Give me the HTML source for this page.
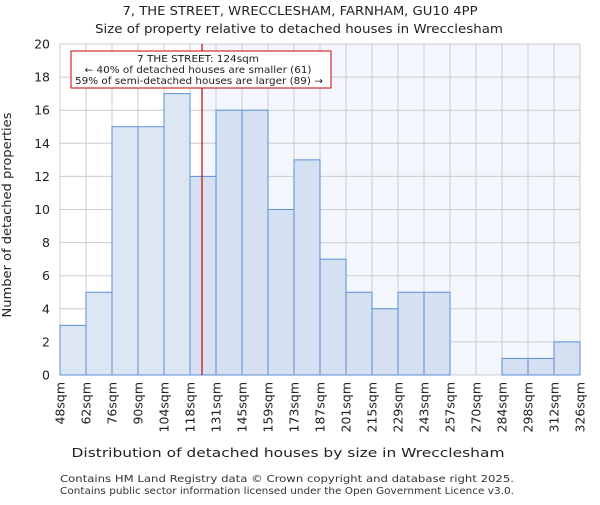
<!DOCTYPE html>
<html><head><meta charset="utf-8"><style>
body{margin:0;background:#fff;font-family:"Liberation Sans","DejaVu Sans",sans-serif}
</style></head><body>
<svg width="600" height="500" xmlns="http://www.w3.org/2000/svg" font-family="DejaVu Sans, Liberation Sans, sans-serif">
<text x="300" y="15" text-anchor="middle" font-size="12.5" fill="#222" textLength="355" lengthAdjust="spacingAndGlyphs">7, THE STREET, WRECCLESHAM, FARNHAM, GU10 4PP</text>
<text x="299" y="33" text-anchor="middle" font-size="12.5" fill="#222" textLength="408" lengthAdjust="spacingAndGlyphs">Size of property relative to detached houses in Wrecclesham</text>
<rect id="bgR" fill="#f3f6fd"/>
<g id="grid"></g>
<g id="bars"></g>
<line id="marker" stroke="#cc0000" stroke-width="1.2"/>
<g id="axes"></g>
<rect x="71" y="51" width="260" height="37" fill="#fff" stroke="#cc0000" stroke-width="1"/>
<text x="198" y="62" text-anchor="middle" font-size="9.5" fill="#222" textLength="122" lengthAdjust="spacingAndGlyphs">7 THE STREET: 124sqm</text>
<text x="198" y="73" text-anchor="middle" font-size="9.5" fill="#222" textLength="227" lengthAdjust="spacingAndGlyphs">← 40% of detached houses are smaller (61)</text>
<text x="199" y="84" text-anchor="middle" font-size="9.5" fill="#222" textLength="248" lengthAdjust="spacingAndGlyphs">59% of semi-detached houses are larger (89) →</text>
<text x="288" y="457" text-anchor="middle" font-size="12" fill="#222" textLength="433" lengthAdjust="spacingAndGlyphs">Distribution of detached houses by size in Wrecclesham</text>
<text transform="translate(11,215) rotate(-90)" text-anchor="middle" font-size="12" fill="#222" textLength="205" lengthAdjust="spacingAndGlyphs">Number of detached properties</text>
<text x="60" y="482" font-size="10" fill="#333" textLength="454" lengthAdjust="spacingAndGlyphs">Contains HM Land Registry data © Crown copyright and database right 2025.</text>
<text x="60" y="494" font-size="10" fill="#333" textLength="454" lengthAdjust="spacingAndGlyphs">Contains public sector information licensed under the Open Government Licence v3.0.</text>
</svg>
<script>
const edgeLabels=["48sqm","62sqm","76sqm","90sqm","104sqm","118sqm","131sqm","145sqm","159sqm","173sqm","187sqm","201sqm","215sqm","229sqm","243sqm","257sqm","270sqm","284sqm","298sqm","312sqm","326sqm"];
const counts=[3,5,15,15,17,12,16,16,10,13,7,5,4,5,5,0,0,1,1,2];
const yTicks=[0,2,4,6,8,10,12,14,16,18,20];
const markerValue=124;
const edgeValues=[48,62,76,90,104,118,131,145,159,173,187,201,215,229,243,257,270,284,298,312,326];
const L=60,R=580,T=44,B=375,yMax=20;
const ns="http://www.w3.org/2000/svg";
const n=counts.length,bw=(R-L)/n;
const xi=i=>L+i*bw;
const y=v=>B-(v/yMax)*(B-T);
function xv(v){for(let i=0;i<edgeValues.length-1;i++){if(v<=edgeValues[i+1])return xi(i)+bw*(v-edgeValues[i])/(edgeValues[i+1]-edgeValues[i]);}return R;}
function mk(t,a,p){const e=document.createElementNS(ns,t);for(const k in a)e.setAttribute(k,a[k]);p.appendChild(e);return e;}
const mx=xv(markerValue);
const bg=document.getElementById('bgR');
bg.setAttribute('x',mx);bg.setAttribute('y',T);bg.setAttribute('width',R-mx);bg.setAttribute('height',B-T);
const g=document.getElementById('grid');
for(let i=0;i<=n;i++){const l=mk('line',{x1:xi(i),x2:xi(i),y1:T,y2:B,stroke:'#cccccc','stroke-width':1},g);

}
yTicks.forEach(t=>{const l=mk('line',{x1:L,x2:R,y1:y(t),y2:y(t),stroke:'#cccccc','stroke-width':1},g);

});
const bg2=document.getElementById('bars');
counts.forEach((c,i)=>{if(c<=0)return;const r=mk('rect',{x:xi(i),y:y(c),width:bw,height:B-y(c),fill:xi(i)+bw/2<mx?'#dde7f4':'#d5e1f3',stroke:'#5b8fd6','stroke-width':1},bg2);

});
const m=document.getElementById('marker');
m.setAttribute('x1',mx);m.setAttribute('x2',mx);m.setAttribute('y1',T);m.setAttribute('y2',B);
const ax=document.getElementById('axes');
yTicks.forEach(t=>{const tx=mk('text',{x:L-10,y:y(t)+4.5,'text-anchor':'end','font-size':12.5,fill:'#222'},ax);tx.textContent=t;

});
edgeLabels.forEach((s,i)=>{const tx=mk('text',{transform:`translate(${xi(i)+4.5},382) rotate(-90)`,'text-anchor':'end','font-size':12.5,fill:'#222'},ax);tx.textContent=s;

});
</script>
</body></html>
